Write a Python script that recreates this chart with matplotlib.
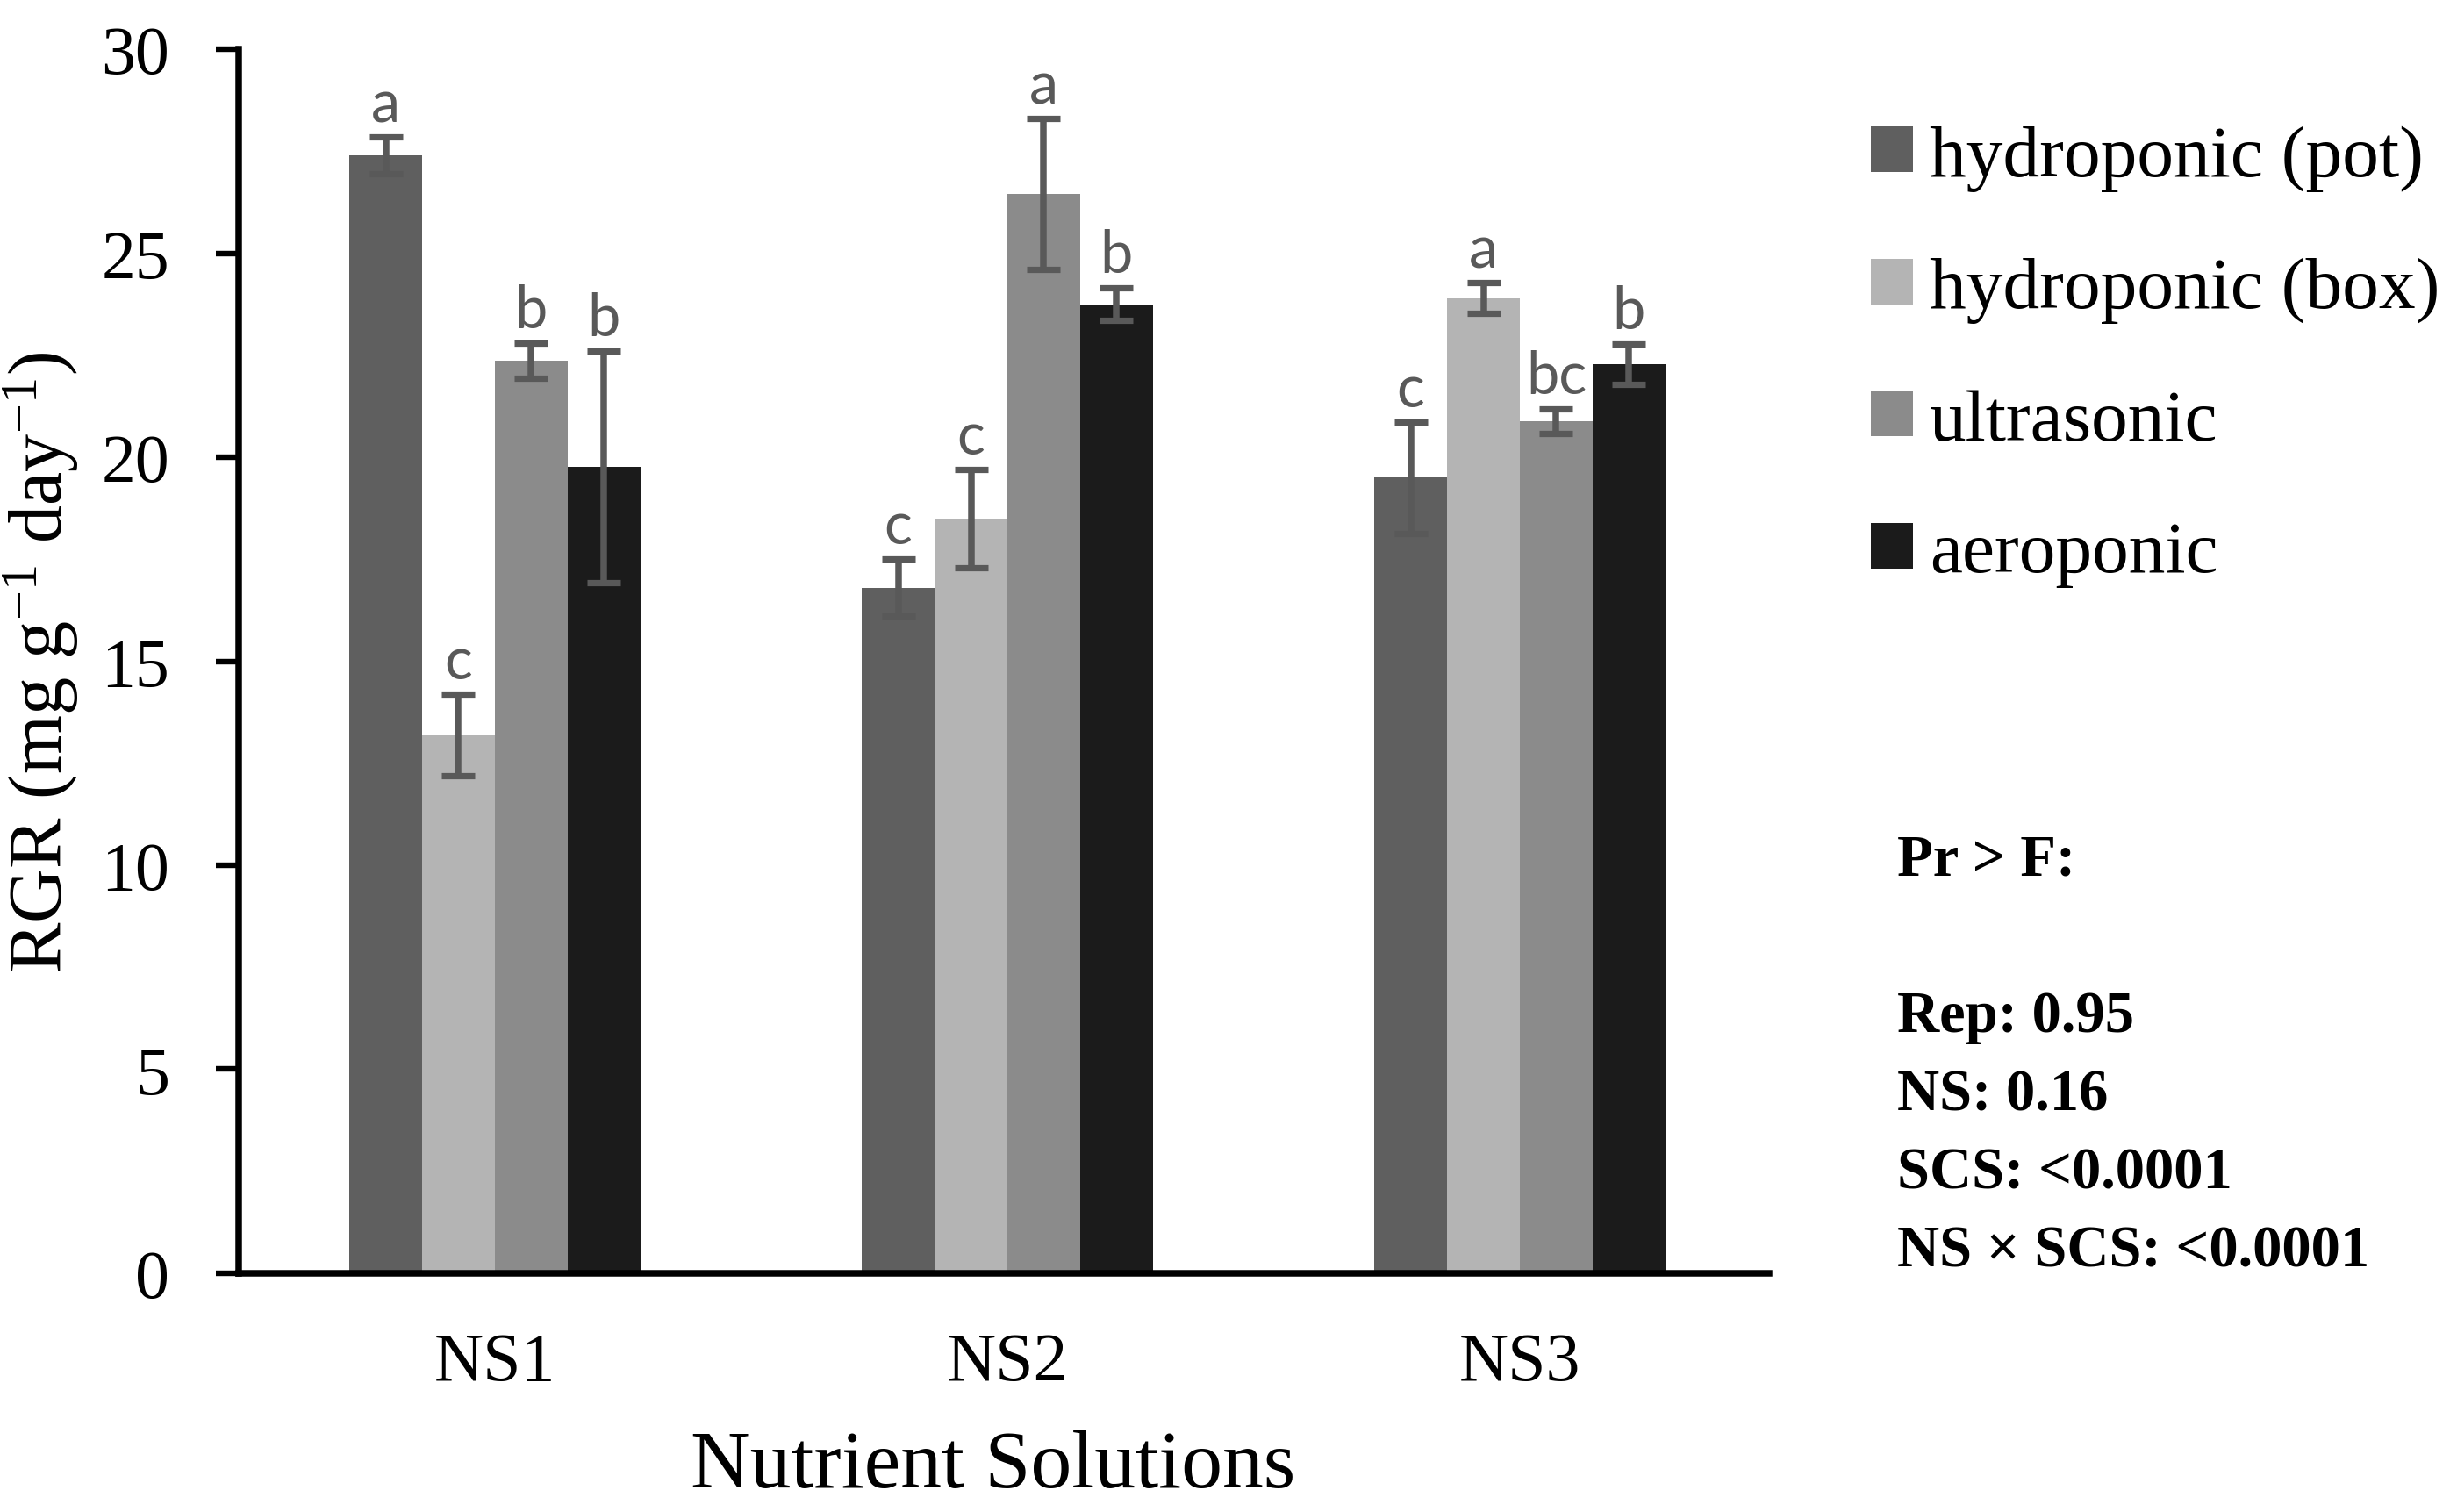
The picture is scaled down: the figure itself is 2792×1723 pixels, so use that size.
import matplotlib.pyplot as plt
import numpy as np

# RGR per nutrient solution and cultivation system
categories = ['NS1', 'NS2', 'NS3']
systems = ['hydroponic (pot)', 'hydroponic (box)', 'ultrasonic', 'aeroponic']
colors = ['#5f5f5f', '#b4b4b4', '#8b8b8b', '#1b1b1b']

pot_mean = [27.39, 16.80, 19.50]
box_mean = [13.20, 18.50, 23.90]
ultra_mean = [22.36, 26.45, 20.88]
aero_mean = [19.76, 23.75, 22.28]

pot_err = [0.45, 0.70, 1.37]
box_err = [1.00, 1.20, 0.37]
ultra_err = [0.43, 1.85, 0.30]
aero_err = [2.84, 0.40, 0.50]

pot_letters = ['a', 'c', 'c']
box_letters = ['c', 'c', 'a']
ultra_letters = ['b', 'a', 'bc']
aero_letters = ['b', 'b', 'b']

stats_text = 'Pr > F:\n\nRep: 0.95\nNS: 0.16\nSCS: <0.0001\nNS × SCS: <0.0001'

means = [pot_mean, box_mean, ultra_mean, aero_mean]
errs = [pot_err, box_err, ultra_err, aero_err]
letters = [pot_letters, box_letters, ultra_letters, aero_letters]

plt.rcParams['font.family'] = ['Liberation Serif', 'DejaVu Serif']
plt.rcParams['mathtext.fontset'] = 'custom'
plt.rcParams['mathtext.rm'] = 'Liberation Serif'
plt.rcParams['mathtext.it'] = 'Liberation Serif:italic'
plt.rcParams['mathtext.bf'] = 'Liberation Serif:bold'

fig = plt.figure(figsize=(13.96, 8.62), dpi=200)
ax = fig.add_axes([0.0974, 0.1578, 0.6246, 0.8091])

x = np.arange(len(categories))
width = 0.142
err_color = '#595959'

for i in range(len(systems)):
    pos = x + (i - 1.5) * width
    ax.bar(pos, means[i], width, color=colors[i], label=systems[i], zorder=2)
    ax.errorbar(pos, means[i], yerr=errs[i], fmt='none', ecolor=err_color,
                elinewidth=2.7, capsize=6.8, capthick=2.6, zorder=3)
    for j in range(len(categories)):
        ax.annotate(letters[i][j], (pos[j], means[i][j] + errs[i][j]),
                    xytext=(0, 6.5), textcoords='offset points',
                    ha='center', va='baseline', fontsize=24,
                    family=['Lato', 'DejaVu Sans'], color=err_color)

ax.set_xlim(-0.5, 2.486)
ax.set_ylim(0, 30)
ax.set_yticks(range(0, 31, 5))
ax.set_xticks(x)
ax.set_xticklabels(categories)

for side in ['top', 'right']:
    ax.spines[side].set_visible(False)
for side in ['left', 'bottom']:
    ax.spines[side].set_linewidth(2.7)
    ax.spines[side].set_color('black')

ax.tick_params(axis='y', direction='out', length=9.4, width=2.3,
               pad=19, labelsize=28)
ax.tick_params(axis='x', length=0, pad=24, labelsize=28)

ax.set_ylabel('RGR (mg g$^{-1}$ day$^{-1}$)', fontsize=31)
ax.yaxis.set_label_coords(-0.1033, 0.5)
ax.set_xlabel('Nutrient Solutions', fontsize=33.7)
ax.xaxis.set_label_coords(0.493, -0.1276)

fig.legend(loc='upper left', bbox_to_anchor=(0.7636, 0.917),
           bbox_transform=fig.transFigure, frameon=False, fontsize=30,
           handlelength=0.58, handleheight=0.58, handletextpad=0.22,
           labelspacing=0.90, borderpad=0, borderaxespad=0)

fig.text(0.7744, 1 - 951 / 1724, stats_text, fontsize=24, fontweight='bold',
         va='top', ha='left', linespacing=1.6)

fig.savefig('out.png', dpi=200, facecolor='white')
